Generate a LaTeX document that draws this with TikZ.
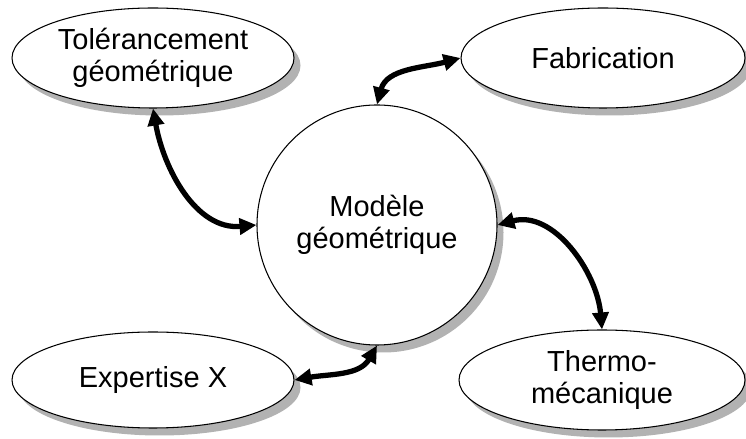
\documentclass[tikz,border=0pt]{standalone}
\usepackage{fontspec}
\setmainfont{Liberation Sans}
\usetikzlibrary{shapes.geometric,shadows,arrows.meta}

\tikzset{
  bubble/.style={ellipse,draw,line width=0.6pt,fill=white,inner sep=0pt,align=center,
    drop shadow={shadow xshift=0.13cm,shadow yshift=-0.15cm,fill=black!30,opacity=1}},
  link/.style={line width=3pt,{Triangle[length=0.34cm,width=0.32cm]}-{Triangle[length=0.34cm,width=0.32cm]}}
}

\begin{document}
\begin{tikzpicture}[every node/.style={font=\fontsize{16.5}{18.5}\selectfont}]
  \useasboundingbox (0,0) rectangle (14.92,8.78);
  % centre
  \node[bubble,circle,minimum size=4.8cm] (mod) at (7.54,4.28) {Modèle\\géométrique};
  % domaines
  \node[bubble,minimum width=5.64cm,minimum height=2.0cm] (tol) at (3.06,7.62) {Tolérancement\\géométrique};
  \node[bubble,minimum width=5.68cm,minimum height=2.0cm] (fab) at (12.06,7.62) {Fabrication};
  \node[bubble,minimum width=5.64cm,minimum height=1.92cm] (exp) at (3.06,1.18) {Expertise X};
  \node[bubble,minimum width=5.72cm,minimum height=2.0cm] (thm) at (12.04,1.18) {Thermo-\\mécanique};
  % liens
  \draw[link] (tol.south) to[out=-80,in=185] (mod.west);
  \draw[link] (mod.north) to[out=75,in=195] (fab.west);
  \draw[link] (mod.east) to[out=15,in=95] (thm.north);
  \draw[link] (mod.south) to[out=-120,in=10] (exp.east);
\end{tikzpicture}
\end{document}
